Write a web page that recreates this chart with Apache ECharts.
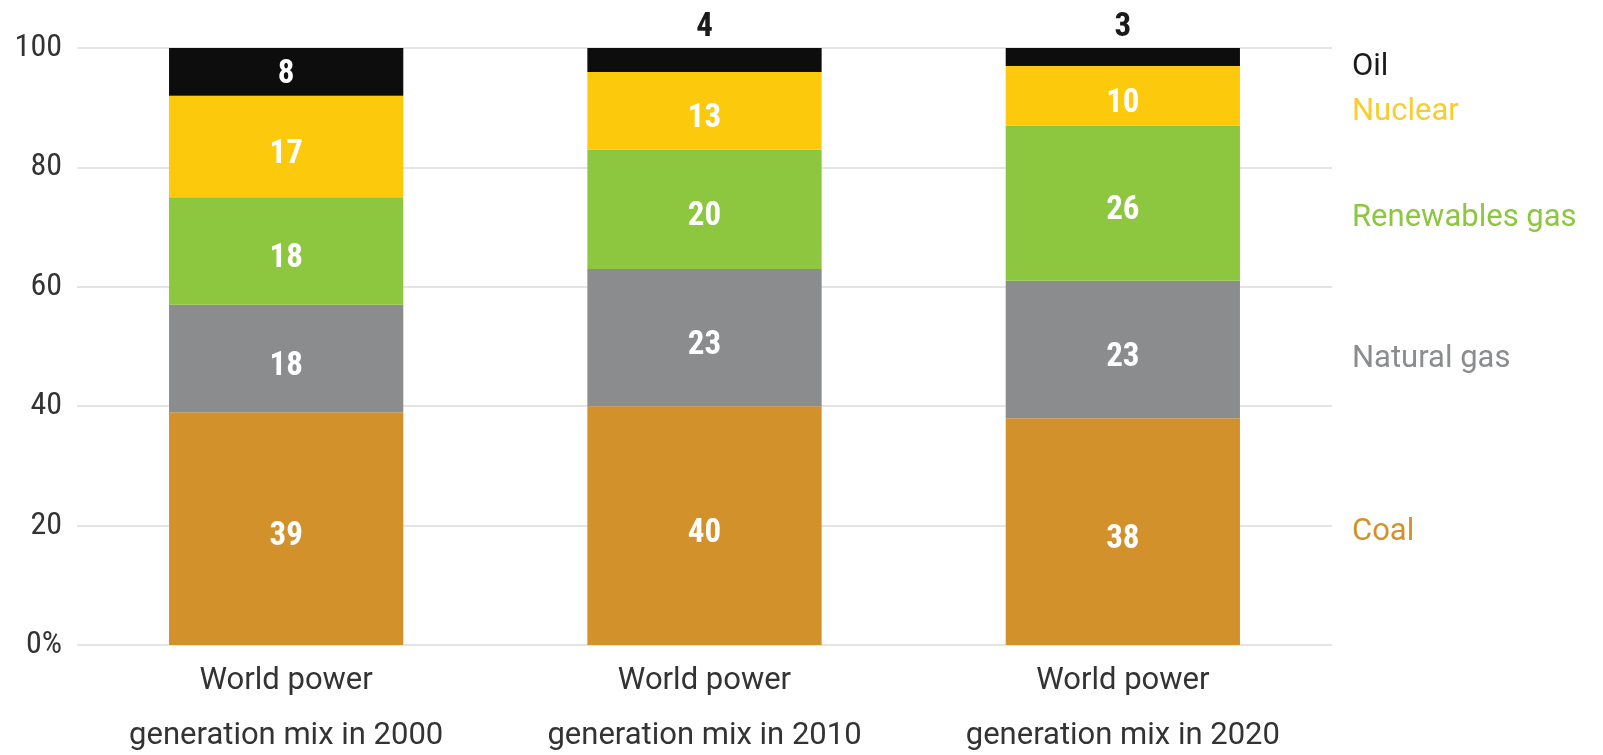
<!DOCTYPE html>
<html>
<head>
<meta charset="utf-8">
<title>World power generation mix</title>
<script src="https://cdn.jsdelivr.net/npm/echarts@6/dist/echarts.min.js"></script>
<style>
  html, body { margin: 0; padding: 0; background: #ffffff; overflow: hidden; }
  #chart { width: 100vw; height: 100vh; }
</style>
</head>
<body>
<div id="chart"></div>
<script>
// Share of world power generation by source (%)
const categories = [
  'World power\ngeneration mix in 2000',
  'World power\ngeneration mix in 2010',
  'World power\ngeneration mix in 2020'
];
const coal = [39, 40, 38];
const naturalGas = [18, 23, 23];
const renewables = [18, 20, 26];
const nuclear = [17, 13, 10];
const oil = [8, 4, 3];

const seriesNames = ['Coal', 'Natural gas', 'Renewables gas', 'Nuclear', 'Oil'];
const seriesColors = ['#d3912b', '#8a8c8e', '#8dc63f', '#fdc90c', '#0d0d0d'];
const yTickLabels = { 0: '0%', 20: '20', 40: '40', 60: '60', 80: '80', 100: '100' };

const numFont = '"Roboto Condensed", "Liberation Sans Narrow", Roboto, sans-serif';
const textFont = 'Roboto, "Liberation Sans", sans-serif';

// Thin segments get their value printed above the bar instead of inside it
function withOutsideLabels(values) {
  return values.map(v => v < 6
    ? { value: v, label: { position: 'top', distance: 4, offset: [0, 0], color: '#1a1a1a' } }
    : v);
}

const seriesData = [coal, naturalGas, renewables, nuclear, withOutsideLabels(oil)];
const labelDrop = [8, 8, 8, 8, 3];

const chart = echarts.init(document.getElementById('chart'));

const option = {
  animation: false,
  backgroundColor: '#ffffff',
  grid: {
    left: 77, right: 271, top: 48, bottom: 110,
    containLabel: false,
    outerBoundsMode: 'none'
  },
  xAxis: {
    type: 'category',
    data: categories,
    axisLine: { show: false },
    axisTick: { show: false },
    axisLabel: {
      interval: 0,
      hideOverlap: false,
      margin: 9,
      fontFamily: textFont,
      fontSize: 31,
      lineHeight: 55,
      color: '#333333'
    }
  },
  yAxis: {
    type: 'value',
    min: 0,
    max: 100,
    interval: 20,
    axisLine: { show: false },
    axisTick: { show: false },
    splitLine: { lineStyle: { color: '#e4e4e4', width: 2 } },
    axisLabel: {
      margin: 15,
      fontFamily: numFont,
      fontSize: 32,
      color: '#333333',
      formatter: v => yTickLabels[v]
    }
  },
  series: seriesNames.map((name, i) => ({
    name,
    type: 'bar',
    stack: 'mix',
    barWidth: '56%',
    itemStyle: { color: seriesColors[i] },
    label: {
      show: true,
      position: 'inside',
      offset: [0, labelDrop[i]],
      fontFamily: numFont,
      fontWeight: 'bold',
      fontSize: 33,
      color: '#ffffff'
    },
    data: seriesData[i]
  })),
  // Source names beside the 2020 bar
  graphic: [
    { name: 'Oil', top: 70, color: '#1a1a1a' },
    { name: 'Nuclear', top: 115, color: '#f9cd2e' },
    { name: 'Renewables gas', top: 221, color: '#8dc63f' },
    { name: 'Natural gas', top: 362, color: '#8a8c8e' },
    { name: 'Coal', top: 535, color: '#d3912b' }
  ].map(t => ({
    type: 'text',
    left: 1352,
    top: t.top - 18,
    style: {
      text: t.name,
      fill: t.color,
      font: '31px ' + textFont
    }
  }))
};

chart.setOption(option);
window.addEventListener('resize', () => chart.resize());
</script>
</body>
</html>
